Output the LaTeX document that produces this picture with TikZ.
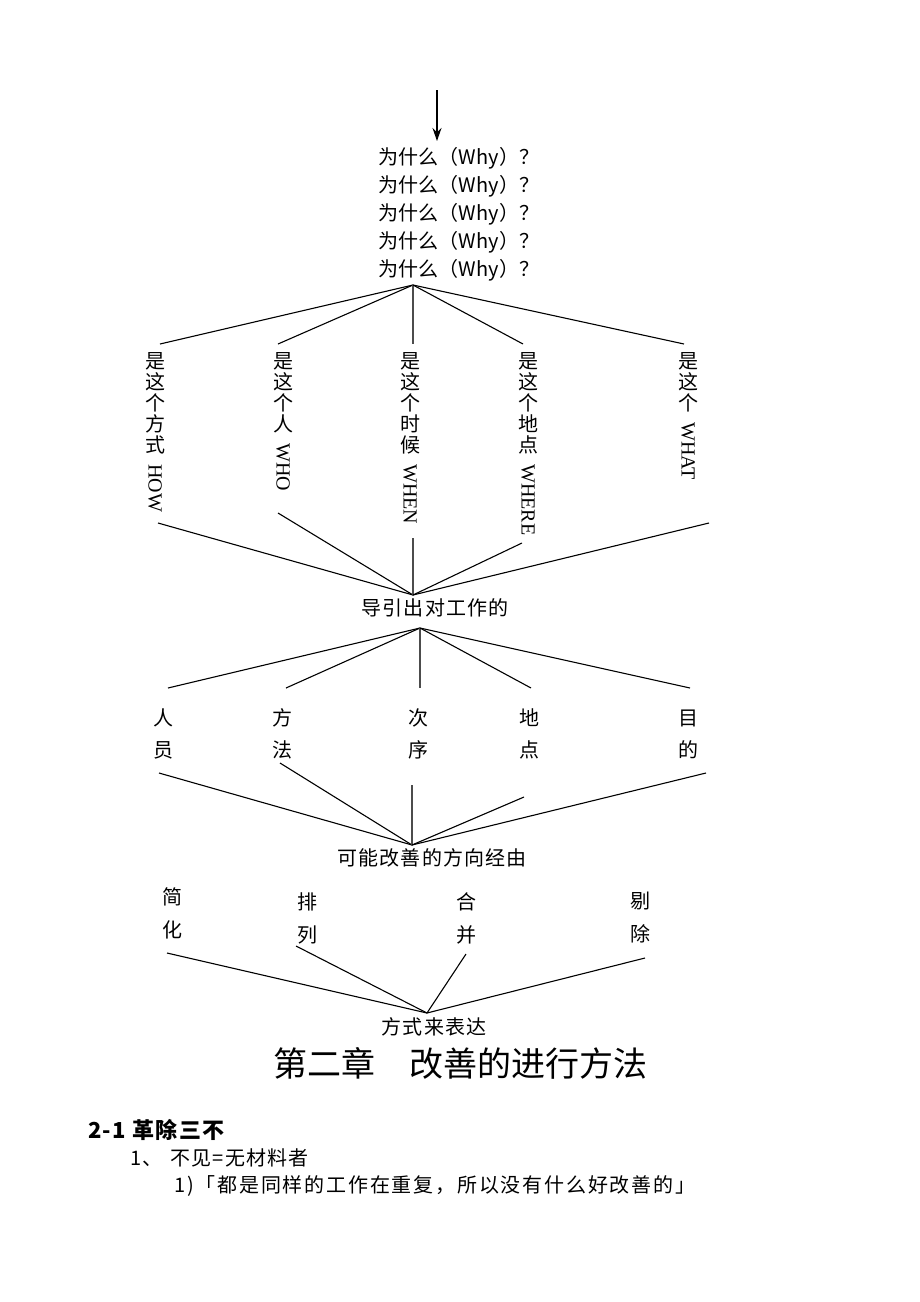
\documentclass[tikz,border=0pt]{standalone}
\usepackage{fontspec}
\setmainfont{Liberation Serif}
\newfontfamily\cjk{Noto Sans CJK SC}
\newfontfamily\cjks{Noto Sans CJK SC}[LetterSpace=6]
\newfontfamily\cjkw{Noto Sans CJK SC}[LetterSpace=9]
\usetikzlibrary{arrows.meta}
\begin{document}
\begin{tikzpicture}[x=1pt,y=-1pt,
  conn/.style={line width=1.1pt, draw=black},
  vconn/.style={line width=1.1pt, draw=black!70},
  cj/.style={font=\cjks\fontsize{20}{21}\selectfont, inner sep=0pt},
  why/.style={font=\cjk\fontsize{20}{21}\selectfont, inner sep=0pt},
  vlab/.style={font=\cjk\fontsize{20}{21}\selectfont, inner sep=0pt, anchor=north, align=center},
  vlat/.style={font=\fontsize{20}{21}\selectfont, rotate=-90, anchor=west, inner sep=0pt},
  pair/.style={font=\cjk\fontsize{20}{32}\selectfont, inner sep=0pt, align=center},
  pairb/.style={font=\cjk\fontsize{20}{33}\selectfont, inner sep=0pt, align=center},
  body/.style={font=\cjks\fontsize{20}{21}\selectfont, inner sep=0pt, anchor=west}]
\useasboundingbox[fill=white] (0,0) rectangle (920,1302);

% top arrow and why lines
\coordinate (a0) at (437,90);
\coordinate (a1) at (437,141);
\draw[conn,-{Stealth[length=13pt,width=9pt]}] (a0) -- (a1);
\node[why] (w1) at (459,158) {为什么（Why）？};
\node[why] (w2) at (459,186) {为什么（Why）？};
\node[why] (w3) at (459,214) {为什么（Why）？};
\node[why] (w4) at (459,242) {为什么（Why）？};
\node[why] (w5) at (459,270) {为什么（Why）？};

% fan 1
\coordinate (f1) at (413,285);
\coordinate (e11) at (160,344);
\coordinate (e12) at (278,344);
\coordinate (e13) at (413,344);
\coordinate (e14) at (523,344);
\coordinate (e15) at (684,344);
\draw[conn] (f1) -- (e11);
\draw[conn] (f1) -- (e12);
\draw[vconn] (f1) -- (e13);
\draw[conn] (f1) -- (e14);
\draw[conn] (f1) -- (e15);

% vertical labels
\node[vlab] (how) at (155,352) {是\\这\\个\\方\\式};
\node[vlat] (howl) at (155,464) {HOW};
\node[vlab] (who) at (283,352) {是\\这\\个\\人};
\node[vlat] (whol) at (283,443) {WHO};
\node[vlab] (when) at (410,352) {是\\这\\个\\时\\候};
\node[vlat] (whenl) at (410,464) {WHEN};
\node[vlab] (where) at (528,352) {是\\这\\个\\地\\点};
\node[vlat] (wherel) at (528,464) {WHERE};
\node[vlab] (what) at (688,352) {是\\这\\个};
\node[vlat] (whatl) at (688,422) {WHAT};

% fan 2
\coordinate (f2) at (413,595);
\coordinate (s21) at (158,523);
\coordinate (s22) at (278,513);
\coordinate (s23) at (413,538);
\coordinate (s24) at (522,543);
\coordinate (s25) at (709,523);
\draw[conn] (s21) -- (f2);
\draw[conn] (s22) -- (f2);
\draw[vconn] (s23) -- (f2);
\draw[conn] (s24) -- (f2);
\draw[conn] (s25) -- (f2);
\node[cj] (t2) at (435,608) {导引出对工作的};

% fan 3
\coordinate (f3) at (420,628);
\coordinate (e31) at (168,688);
\coordinate (e32) at (286,688);
\coordinate (e33) at (420,688);
\coordinate (e34) at (531,688);
\coordinate (e35) at (690,688);
\draw[conn] (f3) -- (e31);
\draw[conn] (f3) -- (e32);
\draw[vconn] (f3) -- (e33);
\draw[conn] (f3) -- (e34);
\draw[conn] (f3) -- (e35);

\node[pair] (p1) at (163,734) {人\\员};
\node[pair] (p2) at (282,734) {方\\法};
\node[pair] (p3) at (418,734) {次\\序};
\node[pair] (p4) at (529,734) {地\\点};
\node[pair] (p5) at (688,734) {目\\的};

% fan 4
\coordinate (f4) at (412,845);
\coordinate (s41) at (159,773);
\coordinate (s42) at (280,763);
\coordinate (s43) at (412,785);
\coordinate (s44) at (524,797);
\coordinate (s45) at (706,773);
\draw[conn] (s41) -- (f4);
\draw[conn] (s42) -- (f4);
\draw[vconn] (s43) -- (f4);
\draw[conn] (s44) -- (f4);
\draw[conn] (s45) -- (f4);
\node[cj] (t4) at (432,858) {可能改善的方向经由};

% level 5
\node[pairb] (q1) at (172,913) {简\\化};
\node[pairb] (q2) at (307,918) {排\\列};
\node[pairb] (q3) at (466,918) {合\\并};
\node[pairb] (q4) at (640,918) {剔\\除};
\coordinate (f5) at (427,1013);
\coordinate (s51) at (167,953);
\coordinate (s52) at (296,946);
\coordinate (s53) at (466,954);
\coordinate (s54) at (645,958);
\draw[conn] (s51) -- (f5);
\draw[conn] (s52) -- (f5);
\draw[conn] (s53) -- (f5);
\draw[conn] (s54) -- (f5);
\node[cj] (t5) at (434,1027) {方式来表达};

% chapter title and text
\node[font=\cjk\fontsize{34}{36}\selectfont, inner sep=0pt] (title) at (460,1063) {第二章　改善的进行方法};
\node[body, font=\cjks\bfseries\fontsize{22}{23}\selectfont] (h1) at (88,1130) {2-1 革除三不};
\node[body] (l1) at (130,1158) {1、\hspace{8pt}不见=无材料者};
\node[body, font=\cjkw\fontsize{20}{21}\selectfont] (l2) at (174,1186) {1)「都是同样的工作在重复，所以没有什么好改善的」};
\end{tikzpicture}
\end{document}
